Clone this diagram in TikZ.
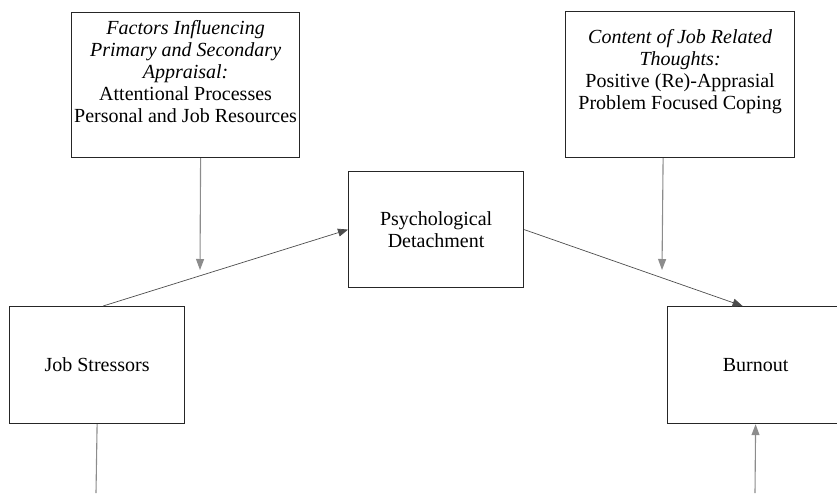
\documentclass[tikz,border=0pt]{standalone}
\usepackage{fontspec}
\setmainfont{Liberation Serif}
\usepackage{tikz}
\usetikzlibrary{arrows.meta}

\tikzset{
    box/.style={draw=black!85, line width=1.2pt, rectangle, anchor=north west, inner sep=0pt},
    boxtext/.style={align=center, inner sep=0pt, anchor=north},
    link/.style={draw=black!70, line width=0.7pt, -{Triangle[length=10pt,width=8pt]}},
    feed/.style={draw=black!45, line width=1.1pt, -{Triangle[length=11pt,width=8pt]}},
    stub/.style={draw=black!45, line width=1.1pt}
}

\begin{document}
\begin{tikzpicture}[x=1pt, y=-1pt, font=\fontsize{20}{22}\selectfont]
        \useasboundingbox (0,0) rectangle (837,493);
        \clip (0,0) rectangle (837,493);

        % boxes
        \node[box, minimum width=228pt, minimum height=145pt,
            label={[boxtext, yshift=-8pt]north:{\textit{Factors Influencing}\\ \textit{Primary and Secondary}\\ \textit{Appraisal:}\\ Attentional Processes\\ Personal and Job Resources}}]
            (factors) at (71,12) {};
        \node[box, minimum width=229pt, minimum height=146pt,
            label={[boxtext, yshift=-18pt]north:{\textit{Content of Job Related}\\ \textit{Thoughts:}\\ Positive (Re)-Apprasial\\ Problem Focused Coping}}]
            (content) at (565,11) {};
        \node[box, minimum width=175pt, minimum height=116pt, align=center]
            (detach) at (348,171) {Psychological\\ Detachment};
        \node[box, minimum width=175pt, minimum height=117pt]
            (stressors) at (9,306) {Job Stressors};
        \node[box, minimum width=176pt, minimum height=117pt]
            (burnout) at (667,306) {Burnout};

        % free ends
        \coordinate (factorsend) at (200,270);
        \coordinate (contentend) at (662,270);
        \coordinate (stressorsend) at (96,493);
        \coordinate (burnoutstart) at (755,493);

        % connectors
        \draw[feed] ([xshift=15pt]factors.south) -- (factorsend);
        \draw[feed] ([xshift=-17pt]content.south) -- (contentend);
        \draw[link] ([xshift=6pt]stressors.north) -- (detach.west);
        \draw[link] (detach.east) -- ([xshift=-13pt]burnout.north);
        \draw[stub] (stressors.south) -- (stressorsend);
        \draw[feed] (burnoutstart) -- (burnout.south);
    \end{tikzpicture}
\end{document}
